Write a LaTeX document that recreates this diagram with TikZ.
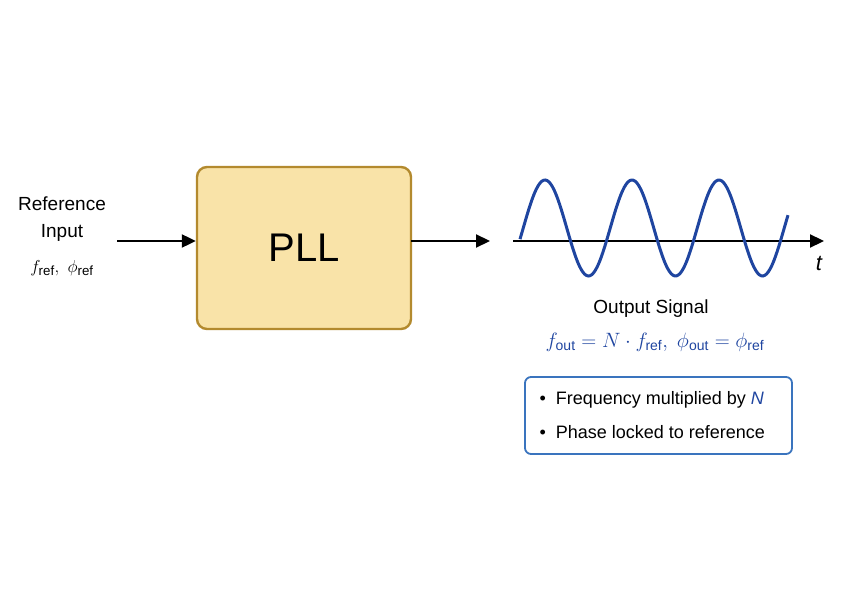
\documentclass[tikz,border=0pt]{standalone}
\usepackage{fontspec}
\setmainfont{Liberation Sans}
\usetikzlibrary{arrows.meta}
\definecolor{boxfill}{HTML}{F9E3A8}
\definecolor{boxline}{HTML}{B38A2E}
\definecolor{wave}{HTML}{1F45A0}
\definecolor{bluebox}{HTML}{3A74BE}
\begin{document}
\begin{tikzpicture}[x=1pt,y=-1pt,
  arr/.style={-{Triangle[length=14pt,width=13pt]},line width=2.2pt},
  txt/.style={font=\fontsize{19}{27}\selectfont}]
\useasboundingbox (0,0) rectangle (846,596);
\node[draw=boxline,fill=boxfill,line width=2.4pt,rounded corners=10pt,minimum width=214pt,minimum height=162pt,font=\fontsize{40}{44}\selectfont] (pll) at (304,248) {PLL};
\node[txt,align=center] (ref) at (62,219) {Reference\\Input};
\node[txt] (refm) at (62,268) {$f_{\mathrm{ref}},\ \phi_{\mathrm{ref}}$};
\coordinate (in) at (117,241);
\draw[arr] (in) -- (pll.west |- in);
\coordinate (o1) at (411,241);
\coordinate (o2) at (490,241);
\draw[arr] (o1) -- (o2);
\coordinate (a0) at (513,241);
\coordinate (a1) at (824,241);
\draw[arr] (a0) -- (a1);
\node[font=\itshape\fontsize{22}{24}\selectfont] (t) at (819,263) {t};
\draw[wave,line width=3pt,domain=520:788,samples=150,smooth] plot (\x,{228-48*cos(4.138*(\x-545))});
\node[txt] (os) at (651,309) {Output Signal};
\node[txt,text=wave,font=\fontsize{20}{24}\selectfont] (fm) at (655,342) {$f_{\mathrm{out}} = N\cdot f_{\mathrm{ref}},\ \phi_{\mathrm{out}} = \phi_{\mathrm{ref}}$};
\node[draw=bluebox,line width=1.8pt,rounded corners=6pt,minimum width=267pt,minimum height=77pt] (bx) at (658.5,415.5) {};
\node[anchor=west,font=\fontsize{18}{20}\selectfont] (b1) at (536,400) {\textbullet\ \ Frequency multiplied by \textcolor{wave}{\textit{N}}};
\node[anchor=west,font=\fontsize{18}{20}\selectfont] (b2) at (536,432) {\textbullet\ \ Phase locked to reference};
\end{tikzpicture}
\end{document}
